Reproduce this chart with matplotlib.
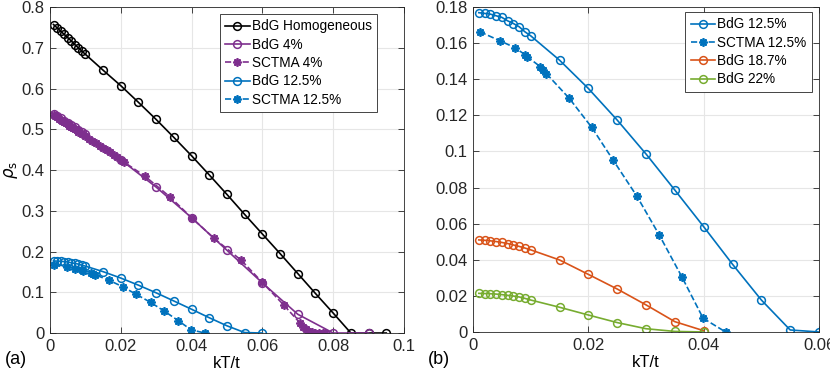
import numpy as np
import matplotlib
matplotlib.use('Agg')
import matplotlib.pyplot as plt

plt.rcParams['font.family'] = ['Liberation Sans', 'DejaVu Sans']

# MATLAB default colours
blue = '#0072BD'
orange = '#D95319'
purple = '#7E2F8E'
green = '#77AC30'

# --- panel (a) data ---
t_low = [0.001, 0.002, 0.003, 0.004, 0.005, 0.006, 0.007, 0.008, 0.009, 0.010]
t_hom = t_low + [0.015, 0.02, 0.025, 0.03, 0.035, 0.04, 0.045, 0.05, 0.055,
                 0.06, 0.065, 0.07, 0.075, 0.08, 0.085, 0.09, 0.095]
rho_hom = [0.757, 0.749, 0.741, 0.733, 0.725, 0.717, 0.708, 0.700, 0.692, 0.684,
           0.645, 0.607, 0.566, 0.524, 0.480, 0.435, 0.388, 0.340, 0.291,
           0.243, 0.195, 0.146, 0.097, 0.049, 0.0, 0.0, 0.0]

t_bdg4 = t_low + [0.02, 0.03, 0.04, 0.05, 0.06, 0.07, 0.08, 0.09]
rho_bdg4 = [0.537, 0.532, 0.527, 0.521, 0.516, 0.510, 0.505, 0.499, 0.494, 0.488,
            0.425, 0.358, 0.283, 0.203, 0.123, 0.046, 0.0, 0.0]

t_sct4 = [0.001, 0.0015, 0.002, 0.0025, 0.003, 0.0035, 0.004, 0.0045, 0.005,
          0.0055, 0.006, 0.0065, 0.007, 0.0075, 0.008, 0.009, 0.010, 0.011,
          0.012, 0.013, 0.014, 0.015, 0.016, 0.017, 0.018, 0.019, 0.020, 0.021,
          0.0268, 0.0339, 0.040, 0.0464, 0.0541, 0.0598, 0.066, 0.0707, 0.0715,
          0.0722, 0.073, 0.074, 0.075, 0.076, 0.077, 0.0777]
rho_sct4 = [0.535, 0.532, 0.529, 0.526, 0.523, 0.521, 0.518, 0.515, 0.512,
            0.509, 0.506, 0.503, 0.500, 0.497, 0.494, 0.489, 0.483, 0.477,
            0.471, 0.466, 0.460, 0.455, 0.449, 0.443, 0.437, 0.431, 0.425, 0.419,
            0.385, 0.334, 0.283, 0.232, 0.178, 0.126, 0.069, 0.024, 0.015,
            0.009, 0.005, 0.002, 0.001, 0.0, 0.0, 0.0]

# --- shared / panel (b) data ---
t_bdg = t_low + [0.015, 0.02, 0.025, 0.03, 0.035, 0.04, 0.045, 0.05, 0.055, 0.06]
rho_bdg125 = [0.1769, 0.1765, 0.1761, 0.1752, 0.1743, 0.1724, 0.1709, 0.1691, 0.1663, 0.1641,
              0.1506, 0.1349, 0.1174, 0.0986, 0.0786, 0.0583, 0.0375, 0.0177, 0.0011, 0.0]

t_sct125 = [0.0012, 0.0047, 0.0072, 0.0090, 0.0094, 0.0117, 0.0121, 0.0127,
            0.0167, 0.0206, 0.0243, 0.0284, 0.0323, 0.0362, 0.0399, 0.0438]
rho_sct125 = [0.1663, 0.1613, 0.1576, 0.1537, 0.1525, 0.1469, 0.1454, 0.1432,
              0.1294, 0.1133, 0.0952, 0.0753, 0.0537, 0.0306, 0.0076, 0.0]

t_bdg187 = t_low + [0.015, 0.02, 0.025, 0.03, 0.035, 0.04]
rho_bdg187 = [0.0510, 0.0508, 0.0505, 0.0501, 0.0496, 0.0490, 0.0482, 0.0474, 0.0465, 0.0455,
              0.0399, 0.0319, 0.0238, 0.0150, 0.0057, 0.0007]
rho_bdg22 = [0.0214, 0.0213, 0.0212, 0.0210, 0.0207, 0.0203, 0.0199, 0.0194, 0.0186, 0.0177,
             0.0137, 0.0094, 0.0052, 0.0018, 0.0003, 0.0]

ast = (8, 2, 0)  # MATLAB-like asterisk
circ = dict(marker='o', markersize=5.6, markerfacecolor='none', markeredgewidth=1.1, linewidth=1.2)
star = dict(marker=ast, markersize=6, markeredgewidth=1.3, linewidth=1.2, linestyle='--')


def style_axes(ax):
    ax.grid(True, color='#e6e6e6', linewidth=0.8)
    ax.set_axisbelow(True)
    ax.tick_params(direction='in', top=True, right=True, labelsize=12,
                   length=4, width=0.6, colors='#262626', pad=4)
    for s in ax.spines.values():
        s.set_color('#262626')
        s.set_linewidth(0.6)


def add_legend(ax, anchor):
    leg = ax.legend(loc='upper right', bbox_to_anchor=anchor, borderaxespad=0,
                    fontsize=9.8, handlelength=1.8, handletextpad=0.15,
                    borderpad=0.4, labelspacing=0.32,
                    fancybox=False, edgecolor='#262626', framealpha=1)
    leg.get_frame().set_linewidth(0.6)


fig = plt.figure(figsize=(8.3, 3.73), dpi=100)
ax1 = fig.add_axes([0.0602, 0.1072, 0.4265, 0.874])
ax2 = fig.add_axes([0.5699, 0.1100, 0.4169, 0.871])

ax1.plot(t_hom, rho_hom, color='k', label='BdG Homogeneous', **circ)
ax1.plot(t_bdg4, rho_bdg4, color=purple, label='BdG 4%', **circ)
ax1.plot(t_sct4, rho_sct4, color=purple, label='SCTMA 4%', **star)
ax1.plot(t_bdg, rho_bdg125, color=blue, label='BdG 12.5%', **circ)
ax1.plot(t_sct125, rho_sct125, color=blue, label='SCTMA 12.5%', **star)
ax1.set_xlim(0, 0.1)
ax1.set_ylim(0, 0.8)
ax1.set_xticks([0, 0.02, 0.04, 0.06, 0.08, 0.1])
ax1.set_xticklabels(['0', '0.02', '0.04', '0.06', '0.08', '0.1'])
ax1.set_yticks(np.arange(0, 0.81, 0.1))
ax1.set_yticklabels(['0', '0.1', '0.2', '0.3', '0.4', '0.5', '0.6', '0.7', '0.8'])
ax1.set_xlabel('kT/t', fontsize=12, labelpad=2)
ax1.set_ylabel(r'$\rho_{\rm s}$', fontsize=12, labelpad=1)
style_axes(ax1)
add_legend(ax1, (0.924, 0.979))

ax2.plot(t_bdg, rho_bdg125, color=blue, label='BdG 12.5%', **circ)
ax2.plot(t_sct125, rho_sct125, color=blue, label='SCTMA 12.5%', **star)
ax2.plot(t_bdg187, rho_bdg187, color=orange, label='BdG 18.7%', **circ)
ax2.plot(t_bdg187, rho_bdg22, color=green, label='BdG 22%', **circ)
ax2.set_xlim(0, 0.06)
ax2.set_ylim(0, 0.18)
ax2.set_xticks([0, 0.02, 0.04, 0.06])
ax2.set_xticklabels(['0', '0.02', '0.04', '0.06'])
ax2.set_yticks(np.arange(0, 0.181, 0.02))
ax2.set_yticklabels(['0', '0.02', '0.04', '0.06', '0.08', '0.1', '0.12', '0.14', '0.16', '0.18'])
ax2.set_xlabel('kT/t', fontsize=12, labelpad=2)
style_axes(ax2)
add_legend(ax2, (0.980, 0.985))

fig.text(0.006, 0.025, '(a)', fontsize=13)
fig.text(0.516, 0.025, '(b)', fontsize=13)

fig.savefig('out.png', dpi=100)
